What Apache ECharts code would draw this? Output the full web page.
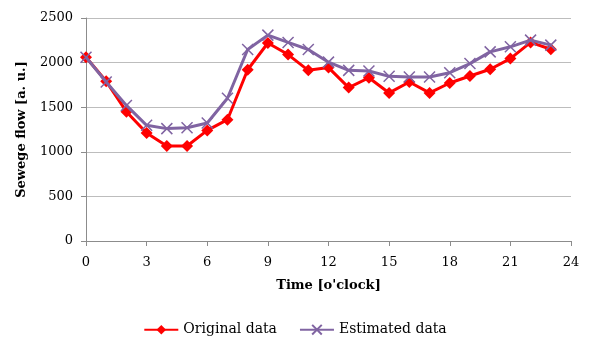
<!DOCTYPE html>
<html><head><meta charset="utf-8">
<script src="https://cdn.jsdelivr.net/npm/echarts@6/dist/echarts.min.js"></script>
<style>html,body{margin:0;padding:0;background:#fff}#c{width:590px;height:338px}</style>
</head><body><div id="c"></div>
<script>
var hours = [0,1,2,3,4,5,6,7,8,9,10,11,12,13,14,15,16,17,18,19,20,21,22,23];
var originalData = [2060,1790,1450,1210,1065,1065,1240,1360,1920,2220,2090,1913,1944,1720,1830,1660,1782,1660,1771,1850,1925,2045,2226,2150];
var estimatedData = [2060,1782,1520,1297,1260,1270,1323,1600,2147,2308,2226,2147,2005,1913,1906,1846,1838,1838,1887,1989,2120,2177,2252,2196];
var xTicks = [0,3,6,9,12,15,18,21,24];
var yTicks = [0,500,1000,1500,2000,2500];

function pairs(xs, ys){ return xs.map(function(x,i){ return [x, ys[i]]; }); }

var font = '"DejaVu Serif", "Liberation Serif", serif';
var chart = echarts.init(document.getElementById('c'), null, {renderer:'canvas'});
chart.setOption({
  animation:false,
  textStyle:{fontFamily:font},
  grid:{left:86, right:19, top:18, bottom:97, containLabel:false},
  xAxis:{
    type:'value', min:xTicks[0], max:xTicks[xTicks.length-1], interval:3,
    name:"Time [o'clock]", nameLocation:'middle', nameGap:38,
    nameTextStyle:{fontFamily:font, fontWeight:'bold', fontSize:13, color:'#000'},
    axisLine:{show:true, lineStyle:{color:'#8c8c8c', width:1}},
    axisTick:{show:true, length:5, lineStyle:{color:'#8c8c8c'}},
    axisLabel:{fontFamily:font, fontSize:13, color:'#000', margin:15, formatter:function(v){return String(v);}},
    splitLine:{show:false}
  },
  yAxis:{
    type:'value', min:yTicks[0], max:yTicks[yTicks.length-1], interval:500,
    name:'Sewege flow [a. u.]', nameLocation:'middle', nameGap:58, nameRotate:90,
    nameTextStyle:{fontFamily:font, fontWeight:'bold', fontSize:13, color:'#000'},
    axisLine:{show:true, lineStyle:{color:'#8c8c8c', width:1}},
    axisTick:{show:true, length:5, lineStyle:{color:'#8c8c8c'}},
    axisLabel:{fontFamily:font, fontSize:13, color:'#000', margin:13, formatter:function(v){return String(v);}},
    splitLine:{show:true, lineStyle:{color:'#bdbdbd', width:1}}
  },
  legend:{
    bottom:1, padding:0, left:'center', itemWidth:34, itemHeight:12, itemGap:22,
    textStyle:{fontFamily:font, fontSize:14, color:'#000'},
    data:['Original data','Estimated data']
  },
  series:[
    {name:'Original data', type:'line', data:pairs(hours, originalData),
     symbol:'diamond', symbolSize:12, lineStyle:{color:'#ff0000', width:3},
     itemStyle:{color:'#ff0000'}, z:2},
    {name:'Estimated data', type:'line', data:pairs(hours, estimatedData),
     symbol:'path://M0,0L10,10M10,0L0,10', symbolSize:11, lineStyle:{color:'#8064a2', width:3},
     itemStyle:{color:'none', borderColor:'#8064a2', borderWidth:1.5}, z:3}
  ]
});
</script></body></html>
